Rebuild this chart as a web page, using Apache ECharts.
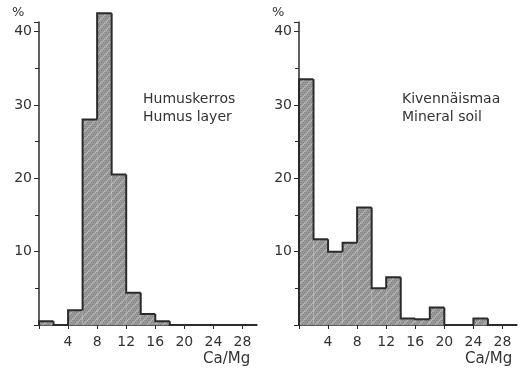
<!DOCTYPE html>
<html>
<head>
<meta charset="utf-8">
<script src="https://cdn.jsdelivr.net/npm/echarts@6/dist/echarts.min.js"></script>
<style>
  html, body { margin: 0; padding: 0; background: #fff; }
  #chart { width: 522px; height: 374px; }
</style>
</head>
<body>
<div id="chart"></div>
<script>
// Ca/Mg class width and per-class percentage shares (classes 0-2, 2-4, ... 28-30)
const binWidth = 2;
const humusPct = [0.5, 0, 2.0, 28.0, 42.5, 20.5, 4.4, 1.5, 0.5, 0, 0, 0, 0, 0, 0];
const mineralPct = [33.5, 11.7, 10.0, 11.2, 16.0, 5.0, 6.5, 0.9, 0.8, 2.4, 0, 0, 0.9, 0, 0];
const xTicks = [4, 8, 12, 16, 20, 24, 28];
const yTicks = [10, 20, 30, 40];
const humusTitle = ['Humuskerros', 'Humus layer'];
const mineralTitle = ['Kivennäismaa', 'Mineral soil'];
const xName = 'Ca/Mg';
const yName = '%';

// Hatched grey fill used for the histogram area
function makeHatch() {
  const c = document.createElement('canvas');
  c.width = 8; c.height = 8;
  const g = c.getContext('2d');
  g.fillStyle = '#9a9a9a';
  g.fillRect(0, 0, 8, 8);
  // fine dot texture
  g.fillStyle = '#808080';
  for (let y = 0; y < 8; y += 2) {
    for (let x = (y / 2) % 2; x < 8; x += 2) g.fillRect(x, y, 1, 1);
  }
  // light diagonal streaks rising to the right
  g.strokeStyle = 'rgba(205,205,205,0.6)';
  g.lineWidth = 1.2;
  g.beginPath();
  g.moveTo(-1, 9); g.lineTo(9, -1);
  g.moveTo(-5, 5); g.lineTo(5, -5);
  g.moveTo(3, 13); g.lineTo(13, 3);
  g.stroke();
  return c;
}
const hatch = makeHatch();

function binData(values) {
  return values.map((v, i) => [i * binWidth, (i + 1) * binWidth, v, i === 0 ? 0 : values[i - 1]]);
}

function renderBin(params, api) {
  const x0 = api.value(0), x1 = api.value(1), h = api.value(2), prev = api.value(3);
  const base0 = api.coord([x0, 0]);
  const top1 = api.coord([x1, h]);
  const top0 = api.coord([x0, h]);
  const prevPt = api.coord([x0, prev]);
  const children = [];
  if (h > 0) {
    children.push({
      type: 'rect',
      shape: { x: base0[0], y: top1[1], width: top1[0] - base0[0], height: base0[1] - top1[1] },
      style: { fill: { image: hatch, repeat: 'repeat' } }
    });
  }
  children.push({
    type: 'polyline',
    shape: { points: [prevPt, top0, top1] },
    style: { stroke: '#2b2b2b', lineWidth: 2, fill: null }
  });
  return { type: 'group', children: children };
}

const font = '"DejaVu Sans", Verdana, sans-serif';
const textColor = '#333';

function xAxisFor(idx) {
  return {
    gridIndex: idx, type: 'value', min: 0, max: 30, interval: 4,
    axisLine: { show: true, lineStyle: { color: '#2b2b2b', width: 1.5 } },
    axisTick: { show: true, length: 4, lineStyle: { color: '#2b2b2b', width: 1 } },
    splitLine: { show: false },
    axisLabel: {
      color: textColor, fontFamily: font, fontSize: 14, margin: 10,
      showMaxLabel: false,
      formatter: v => (xTicks.indexOf(v) >= 0 ? String(v) : '')
    }
  };
}
function yAxisFor(idx) {
  return {
    gridIndex: idx, type: 'value', min: 0, max: 41.3, interval: 10,
    axisLine: { show: true, lineStyle: { color: '#2b2b2b', width: 1.5 } },
    axisTick: { show: true, length: 5, lineStyle: { color: '#2b2b2b', width: 1 } },
    minorTick: { show: true, splitNumber: 2, length: 4, lineStyle: { color: '#2b2b2b', width: 1 } },
    splitLine: { show: false },
    axisLabel: {
      color: textColor, fontFamily: font, fontSize: 14, margin: 7,
      formatter: v => (yTicks.indexOf(v) >= 0 ? String(v) : '')
    }
  };
}

function titleText(lines, left) {
  return {
    type: 'text', left: left, top: 90,
    style: { text: lines.join('\n'), font: '14px ' + font, fill: textColor, lineHeight: 18 }
  };
}

const chart = echarts.init(document.getElementById('chart'));
chart.setOption({
  animation: false,
  grid: [
    { left: 39, right: 265, top: 22, bottom: 49 },
    { left: 299, right: 5, top: 22, bottom: 49 }
  ],
  xAxis: [xAxisFor(0), xAxisFor(1)],
  yAxis: [yAxisFor(0), yAxisFor(1)],
  series: [
    { type: 'custom', xAxisIndex: 0, yAxisIndex: 0, renderItem: renderBin, data: binData(humusPct), encode: { x: [0, 1], y: 2 } },
    { type: 'custom', xAxisIndex: 1, yAxisIndex: 1, renderItem: renderBin, data: binData(mineralPct), encode: { x: [0, 1], y: 2 } }
  ],
  graphic: [
    titleText(humusTitle, 143),
    titleText(mineralTitle, 402),
    { type: 'text', left: 12, top: 6, style: { text: yName, font: '13px ' + font, fill: textColor } },
    { type: 'text', left: 272, top: 6, style: { text: yName, font: '13px ' + font, fill: textColor } },
    { type: 'text', left: 203, top: 352, style: { text: xName, font: '15px ' + font, fill: textColor } },
    { type: 'text', left: 465, top: 352, style: { text: xName, font: '15px ' + font, fill: textColor } }
  ]
});
</script>
</body>
</html>
